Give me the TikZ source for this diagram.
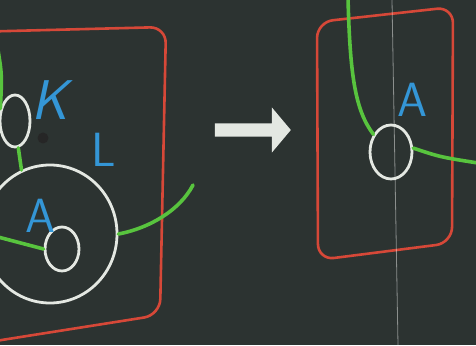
\documentclass[tikz,border=0pt]{standalone}
\usetikzlibrary{shapes.geometric,shapes.arrows}
\definecolor{board}{RGB}{44,51,49}
\definecolor{chalkred}{RGB}{214,72,56}
\definecolor{chalkgreen}{RGB}{88,196,62}
\definecolor{chalkblue}{RGB}{52,150,214}
\definecolor{chalkwhite}{RGB}{228,232,226}
\begin{document}
\begin{tikzpicture}[x=1pt,y=1pt,
  ring/.style={draw=chalkwhite,line width=2.8pt,ellipse,inner sep=0pt},
  frame/.style={draw=chalkred,line width=2.6pt,rounded corners=16pt},
  stem/.style={draw=chalkgreen,line width=3.6pt,line cap=round},
  letter/.style={text=chalkblue,font=\sffamily\fontsize{48}{48}\selectfont,inner sep=0pt}]
  \fill[board] (0,0) rectangle (476,345);
  \useasboundingbox (0,0) rectangle (476,345);
  \clip (0,0) rectangle (476,345);
  \draw[frame] (-30,313) -- (166,318) -- (160,30) -- (-30,0) -- cycle;
  \draw[frame] (317,323) -- (453,338) -- (452,102) -- (318,85) -- cycle;
  \draw[white,opacity=.45,line width=.8pt] (392,345) -- (398,0);
  \fill[black!85] (43,207) circle (5.5);
  \node[ring,minimum width=30,minimum height=52] (kring) at (15,224) {};
  \node[ring,minimum width=134,minimum height=138] (lring) at (50,111) {};
  \node[ring,minimum width=34,minimum height=44] (aring) at (62,96) {};
  \node[ring,minimum width=42,minimum height=54] (aring2) at (391,193) {};
  \node[letter,font=\sffamily\slshape\fontsize{56}{56}\selectfont] (K) at (50,245) {K};
  \node[letter] (L) at (104,195) {L};
  \node[letter] (A) at (40,129) {A};
  \node[letter] (A2) at (412,245) {A};
  \node[single arrow,fill=chalkwhite,inner sep=0pt,minimum height=76,
        single arrow head extend=16,single arrow tip angle=100] (go) at (250,215) {\rule{0pt}{13pt}};
  \coordinate (g1) at (-2,295);
  \coordinate (g2) at (-2,108);
  \coordinate (g3) at (193,160);
  \coordinate (g4) at (348,347);
  \coordinate (g5) at (478,182);
  \draw[stem] (g1) .. controls (2,270) .. (kring.140);
  \draw[stem] (kring.-83) -- (lring.114);
  \draw[stem] (g2) .. controls (20,102) .. (aring.west);
  \draw[stem] (lring.east) .. controls (150,117) and (180,135) .. (g3);
  \draw[stem] (g4) .. controls (350,270) and (355,235) .. (aring2.135);
  \draw[stem] (aring2.10) .. controls (440,188) .. (g5);
\end{tikzpicture}
\end{document}
